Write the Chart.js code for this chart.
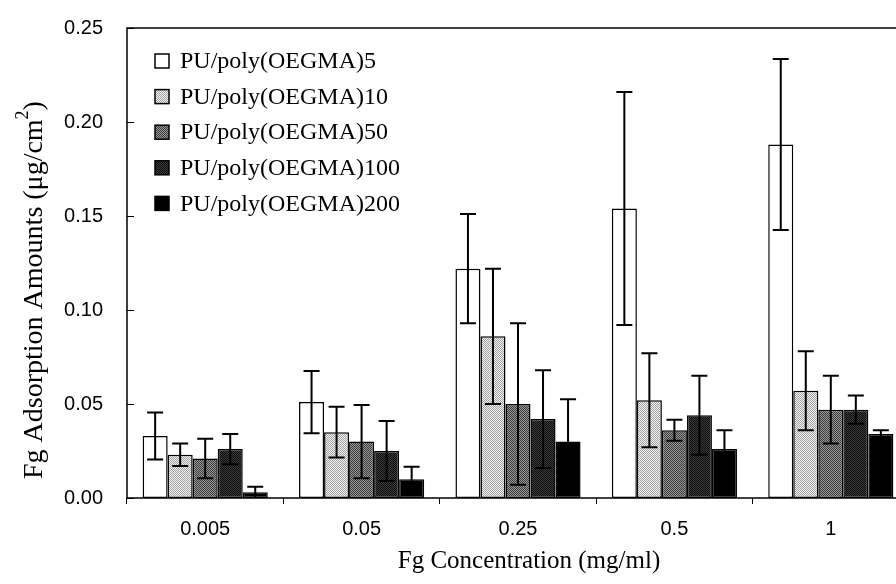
<!DOCTYPE html>
<html>
<head>
<meta charset="utf-8">
<script src="https://cdn.jsdelivr.net/npm/chart.js@4.4.1/dist/chart.umd.min.js"></script>
<style>
  html, body { margin: 0; padding: 0; background: #fff; overflow: hidden; }
  #wrap { width: 912px; height: 584px; }
</style>
</head>
<body>
<div id="wrap"><canvas id="fgChart" width="912" height="584"></canvas></div>
<script>
// ===================================
// DATA
// ===================================
const concentrations = ["0.005", "0.05", "0.25", "0.5", "1"];
const seriesNames = [
  "PU/poly(OEGMA)5",
  "PU/poly(OEGMA)10",
  "PU/poly(OEGMA)50",
  "PU/poly(OEGMA)100",
  "PU/poly(OEGMA)200"
];
const oegma5 = [0.033, 0.051, 0.122, 0.154, 0.188];
const oegma10 = [0.023, 0.035, 0.086, 0.052, 0.057];
const oegma50 = [0.021, 0.030, 0.050, 0.036, 0.047];
const oegma100 = [0.026, 0.025, 0.042, 0.044, 0.047];
const oegma200 = [0.003, 0.010, 0.030, 0.026, 0.034];
const err5 = [0.0125, 0.0165, 0.029, 0.062, 0.0455];
const err10 = [0.006, 0.0135, 0.036, 0.025, 0.021];
const err50 = [0.0105, 0.0195, 0.043, 0.0056, 0.018];
const err100 = [0.008, 0.016, 0.026, 0.021, 0.0075];
const err200 = [0.003, 0.0066, 0.0225, 0.010, 0.002];
const yTicks = [0, 0.05, 0.10, 0.15, 0.20, 0.25];
const xTitle = "Fg Concentration (mg/ml)";
const yTitle = ["Fg Adsorption Amounts (\u03bcg/cm", "2", ")"];

const SERIF = "'Liberation Serif', 'Times New Roman', serif";
const SANS = "'Liberation Sans', Arial, sans-serif";

// ===================================
// FILL PATTERNS (halftone look)
// ===================================
function makePattern(a, b) {
  const c = document.createElement("canvas");
  c.width = 2;
  c.height = 2;
  const g = c.getContext("2d");
  g.fillStyle = a;
  g.fillRect(0, 0, 2, 2);
  g.fillStyle = b;
  g.fillRect(0, 0, 1, 1);
  g.fillRect(1, 1, 1, 1);
  return g.createPattern(c, "repeat");
}

const fills = [
  "#ffffff",
  makePattern("#f4f4f4", "#a0a0a0"),
  makePattern("#9a9a9a", "#3a3a3a"),
  makePattern("#3c3c3c", "#0c0c0c"),
  "#000000"
];
const values = [oegma5, oegma10, oegma50, oegma100, oegma200];
const errors = [err5, err10, err50, err100, err200];

const datasets = seriesNames.map((name, i) => ({
  label: name,
  data: values[i],
  errors: errors[i],
  backgroundColor: fills[i],
  borderColor: "#000",
  borderWidth: 1.5,
  borderSkipped: false,
  categoryPercentage: 0.8,
  barPercentage: 1.0
}));

// ===================================
// PLUGINS
// ===================================
const errorBars = {
  id: "errorBars",
  afterDatasetsDraw(chart) {
    const { ctx } = chart;
    const y = chart.scales.y;
    ctx.save();
    ctx.strokeStyle = "#000";
    ctx.lineWidth = 2;
    chart.data.datasets.forEach((ds, di) => {
      const meta = chart.getDatasetMeta(di);
      meta.data.forEach((bar, j) => {
        const v = ds.data[j];
        const e = ds.errors[j];
        const top = y.getPixelForValue(v + e);
        const bot = y.getPixelForValue(Math.max(0, v - e));
        ctx.beginPath();
        ctx.moveTo(bar.x, top);
        ctx.lineTo(bar.x, bot);
        ctx.moveTo(bar.x - 8, top);
        ctx.lineTo(bar.x + 8, top);
        if (v - e > 0) {
          ctx.moveTo(bar.x - 8, bot);
          ctx.lineTo(bar.x + 8, bot);
        }
        ctx.stroke();
      });
    });
    ctx.restore();
  }
};

const frame = {
  id: "frame",
  afterDraw(chart) {
    const { ctx, chartArea: a } = chart;
    const y = chart.scales.y;
    ctx.save();
    ctx.strokeStyle = "#000";
    ctx.lineWidth = 1.5;
    ctx.strokeRect(a.left, a.top, a.right - a.left, a.bottom - a.top);
    ctx.lineWidth = 1;
    y.ticks.forEach((t) => {
      const py = Math.round(y.getPixelForValue(t.value)) + 0.5;
      ctx.beginPath();
      ctx.moveTo(a.left, py);
      ctx.lineTo(a.left + 7, py);
      ctx.stroke();
    });
    ctx.restore();
  }
};

const boxLegend = {
  id: "boxLegend",
  afterDraw(chart) {
    const { ctx, chartArea: a } = chart;
    ctx.save();
    ctx.font = "24px " + SERIF;
    ctx.textBaseline = "middle";
    chart.data.datasets.forEach((ds, i) => {
      const cy = a.top + 33 + i * 35.6;
      const bx = a.left + 28;
      ctx.fillStyle = ds.backgroundColor;
      ctx.fillRect(bx, cy - 7, 14, 14);
      ctx.strokeStyle = "#000";
      ctx.lineWidth = 1.5;
      ctx.strokeRect(bx, cy - 7, 14, 14);
      ctx.fillStyle = "#000";
      ctx.fillText(ds.label, bx + 25, cy + 1);
    });
    ctx.restore();
  }
};

// axis titles, placed a little off-centre as in the original
const axisTitles = {
  id: "axisTitles",
  afterDraw(chart) {
    const { ctx, chartArea: a } = chart;
    ctx.save();
    ctx.fillStyle = "#000";
    ctx.textBaseline = "middle";
    ctx.textAlign = "center";
    ctx.font = "25px " + SERIF;
    ctx.fillText(xTitle, (a.left + a.right) / 2 + 11, a.bottom + 63);

    ctx.translate(35, (a.top + a.bottom) / 2 + 27);
    ctx.rotate(-Math.PI / 2);
    ctx.font = "28px " + SERIF;
    const supFont = "18px " + SERIF;
    const w0 = ctx.measureText(yTitle[0]).width;
    const w2 = ctx.measureText(yTitle[2]).width;
    ctx.font = supFont;
    const w1 = ctx.measureText(yTitle[1]).width;
    let x = -(w0 + w1 + w2) / 2;
    ctx.textAlign = "left";
    ctx.font = "28px " + SERIF;
    ctx.fillText(yTitle[0], x, 0);
    x += w0;
    ctx.font = supFont;
    ctx.fillText(yTitle[1], x, -12);
    x += w1;
    ctx.font = "28px " + SERIF;
    ctx.fillText(yTitle[2], x, 0);
    ctx.restore();
  }
};

// ===================================
// CHART
// ===================================
new Chart(document.getElementById("fgChart"), {
  type: "bar",
  data: {
    labels: concentrations,
    datasets: datasets
  },
  options: {
    responsive: false,
    animation: false,
    layout: { padding: { left: 0, top: 25, right: 3, bottom: 0 } },
    plugins: {
      legend: { display: false },
      tooltip: { enabled: false }
    },
    scales: {
      x: {
        grid: {
          display: true,
          drawOnChartArea: false,
          offset: true,
          tickLength: 6,
          color: "#000"
        },
        border: { display: false },
        ticks: {
          color: "#000",
          padding: 13,
          font: { family: SANS, size: 20 }
        },
        afterFit(scale) { scale.height = 86; }
      },
      y: {
        min: 0,
        max: 0.25,
        afterBuildTicks(scale) {
          scale.ticks = yTicks.map((v) => ({ value: v }));
        },
        grid: { display: false },
        border: { display: false },
        ticks: {
          color: "#000",
          padding: 16,
          font: { family: SANS, size: 20 },
          callback: (v) => v.toFixed(2)
        },
        afterFit(scale) { scale.width = 127; }
      }
    }
  },
  plugins: [errorBars, frame, boxLegend, axisTitles]
});
</script>
</body>
</html>
